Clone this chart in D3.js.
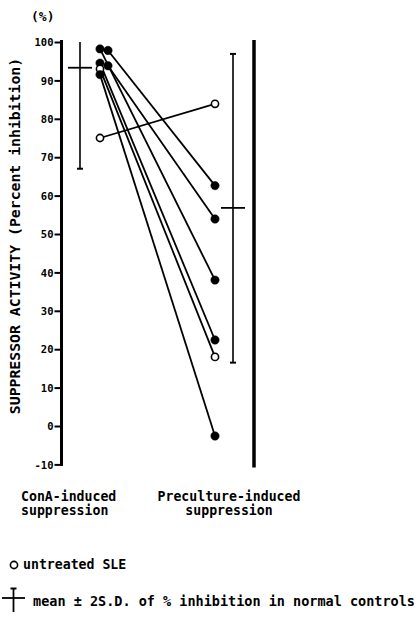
<!DOCTYPE html>
<html>
<head>
<meta charset="utf-8">
<script src="https://cdn.jsdelivr.net/npm/d3@7"></script>
<style>
  html, body { margin: 0; padding: 0; background: #fff; }
  svg text { font-family: "DejaVu Sans Mono", monospace; font-weight: bold; fill: #000; }
</style>
</head>
<body>
<svg id="chart" width="418" height="620"></svg>
<script>
// Paired suppressor activity (% inhibition) for each patient
const conaValues       = [97.8, 93.8, 98.2, 94.5, 93.0, 91.5, 75.0];
const precultureValues = [62.6, 53.9, 38.0, 22.4, 18.0, -2.6, 83.9];
const untreated        = [false, false, false, false, true, false, true];
const conaLane         = [1, 1, 0, 0, 0, 0, 0];   // side-by-side lane for overlapping points

// Normal controls: mean ± 2 S.D.
const controlMean = [93.3, 56.8];
const controlLow  = [67.0, 16.5];
const controlHigh = [100.0, 96.9];

const categories = ["ConA-induced", "Preculture-induced"];
const categoryLines = [["ConA-induced", "suppression"], ["Preculture-induced", "suppression"]];
const yTicks = [-10, 0, 10, 20, 30, 40, 50, 60, 70, 80, 90, 100];

const svg = d3.select("#chart");

const y = d3.scaleLinear().domain([-10, 100]).range([464.4, 42]);
const x = d3.scalePoint().domain(categories).range([100, 215]);
const laneWidth = 8;
const ctrlOffset = [-20, 18];

// Left axis
const axisX = 61.5;
const yAxis = d3.axisLeft(y).tickValues(yTicks).tickSize(7).tickPadding(1)
  .tickFormat(d => d);
const gAxis = svg.append("g").attr("transform", `translate(${axisX},0)`).call(yAxis);
gAxis.select(".domain").attr("d", `M0,${y(-10) + 1.5}V${y(100) - 2}`)
  .attr("stroke", "#000").attr("stroke-width", 3);
gAxis.selectAll(".tick line").attr("stroke", "#000").attr("stroke-width", 2);
gAxis.selectAll(".tick text").style("font-size", "10.5px").attr("dy", "0.35em");

// Right frame line
svg.append("line")
  .attr("x1", 254).attr("x2", 254)
  .attr("y1", y(100) - 2).attr("y2", y(-10) + 3)
  .attr("stroke", "#000").attr("stroke-width", 3.5);

// Axis title
svg.append("text")
  .attr("transform", `translate(20,236) rotate(-90)`)
  .attr("text-anchor", "middle")
  .style("font-size", "14.8px")
  .text("SUPPRESSOR ACTIVITY (Percent inhibition)");

svg.append("text").attr("x", 31).attr("y", 21).style("font-size", "13px").text("(%)");

// Normal control bars
categories.forEach((c, i) => {
  const cx = x(c) + ctrlOffset[i];
  const g = svg.append("g").attr("stroke", "#000");
  g.append("line").attr("x1", cx).attr("x2", cx)
    .attr("y1", y(controlHigh[i])).attr("y2", y(controlLow[i])).attr("stroke-width", 1.6);
  g.append("line").attr("x1", cx - 12).attr("x2", cx + 12)
    .attr("y1", y(controlMean[i])).attr("y2", y(controlMean[i])).attr("stroke-width", 1.8);
  g.append("line").attr("x1", cx - 3).attr("x2", cx + 3)
    .attr("y1", y(controlLow[i])).attr("y2", y(controlLow[i])).attr("stroke-width", 2);
  if (i === 1) {
    g.append("line").attr("x1", cx - 3).attr("x2", cx + 3)
      .attr("y1", y(controlHigh[i])).attr("y2", y(controlHigh[i])).attr("stroke-width", 2);
  }
});

// Patient pairs
const pairs = conaValues.map((v, i) => ({
  a: v, b: precultureValues[i], open: untreated[i], lane: conaLane[i]
}));
const xa = d => x(categories[0]) + d.lane * laneWidth;
const xb = () => x(categories[1]);

svg.append("g").selectAll("line").data(pairs).join("line")
  .attr("x1", xa).attr("y1", d => y(d.a))
  .attr("x2", xb).attr("y2", d => y(d.b))
  .attr("stroke", "#000").attr("stroke-width", 1.8);

const pts = pairs.flatMap(d => [
  { x: xa(d), v: d.a, open: d.open },
  { x: xb(d), v: d.b, open: d.open }
]);
svg.append("g").selectAll("circle").data(pts).join("circle")
  .attr("cx", d => d.x).attr("cy", d => y(d.v))
  .attr("r", d => d.open ? 3.6 : 4.2)
  .attr("fill", d => d.open ? "#fff" : "#000")
  .attr("stroke", "#000").attr("stroke-width", d => d.open ? 1.6 : 0.5);

// Category labels
const lab0 = svg.append("text").attr("x", 21).attr("y", 501).style("font-size", "13.2px");
categoryLines[0].forEach((t, j) => lab0.append("tspan").attr("x", 21).attr("dy", j ? 14 : 0).text(t));
const lab1 = svg.append("text").attr("x", 229).attr("y", 501).attr("text-anchor", "middle").style("font-size", "13.2px");
categoryLines[1].forEach((t, j) => lab1.append("tspan").attr("x", 229).attr("dy", j ? 14 : 0).text(t));

// Legend
svg.append("circle").attr("cx", 14).attr("cy", 565).attr("r", 3.6)
  .attr("fill", "#fff").attr("stroke", "#000").attr("stroke-width", 1.6);
svg.append("text").attr("x", 23).attr("y", 569).style("font-size", "13.2px").text("untreated SLE");

const lg = svg.append("g").attr("stroke", "#000");
lg.append("line").attr("x1", 13.5).attr("x2", 13.5).attr("y1", 588).attr("y2", 612).attr("stroke-width", 1.8);
lg.append("line").attr("x1", 2).attr("x2", 25).attr("y1", 598).attr("y2", 598).attr("stroke-width", 1.8);
lg.append("line").attr("x1", 10.5).attr("x2", 16.5).attr("y1", 588.5).attr("y2", 588.5).attr("stroke-width", 2);
svg.append("text").attr("x", 33).attr("y", 606).style("font-size", "13.5px")
  .text("mean ± 2S.D. of % inhibition in normal controls");
</script>
</body>
</html>
